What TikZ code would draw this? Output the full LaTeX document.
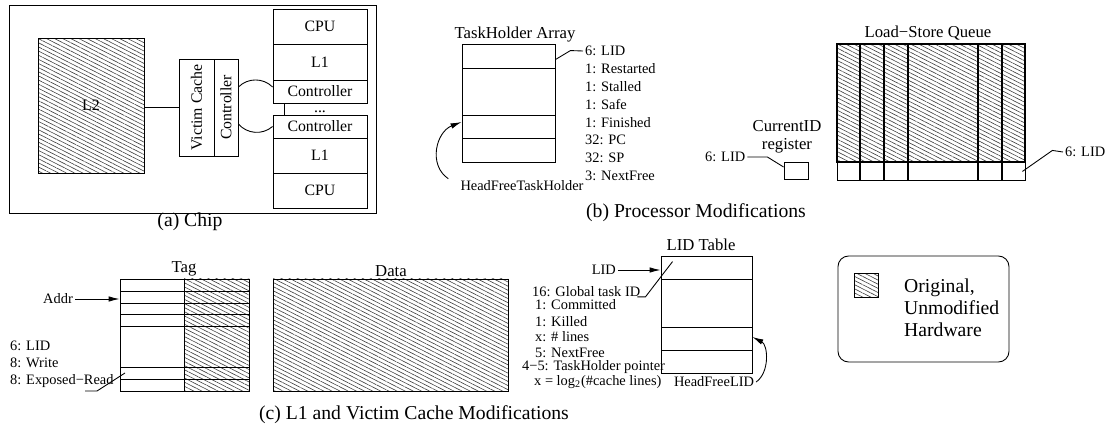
\documentclass[tikz,border=0pt]{standalone}
\usepackage{fontspec}
\setmainfont{Liberation Serif}
\usetikzlibrary{patterns.meta,arrows.meta}
\tikzset{
  hatch/.style={pattern={Lines[angle=-27,distance=2.1pt,line width=0.35pt]},pattern color=black!75},
  box/.style={draw,inner sep=0pt},
  small/.style={inner sep=1pt,font=\fontsize{8.2}{9.5}\selectfont},
  mid/.style={font=\fontsize{9}{10}\selectfont},
  ttl/.style={inner sep=1pt,font=\fontsize{9.5}{10.2}\selectfont},
  capt/.style={inner sep=1pt,font=\fontsize{11.2}{12.5}\selectfont},
  stk/.style={box,minimum width=1.88cm,mid},
  arr/.style={-{Latex[length=2.2mm,width=1.1mm]}},
}
\begin{document}
\begin{tikzpicture}[x=0.02cm,y=-0.02cm,line width=0.5pt]
\useasboundingbox (0,0) rectangle (1107,429);

\draw (9,5) rectangle (376,213);
\node [box,hatch,minimum width=2.12cm,minimum height=2.7cm,mid] (l2) at (91,105.5) {L2};
\node [box,rotate=90,minimum width=1.94cm,minimum height=0.7cm,mid] (vc) at (196.5,107.5) {Victim Cache};
\node [box,rotate=90,minimum width=1.94cm,minimum height=0.48cm,mid] (vcc) at (226,107.5) {Controller};
\draw (l2.east |- vc.north) -- (vc.north);
\node [stk,minimum height=0.7cm] (cpuA) at (320,26.5) {CPU};
\node [stk,minimum height=0.72cm] (l1A) at (320,62) {L1};
\node [stk,minimum height=0.46cm] (ctlA) at (320,91.5) {Controller};
\node [stk,minimum height=0.46cm] (ctlB) at (320,126.5) {Controller};
\node [stk,minimum height=0.7cm] (l1B) at (320,155.5) {L1};
\node [stk,minimum height=0.7cm] (cpuB) at (320,190.5) {CPU};
\draw ([xshift=0.24cm]ctlA.south west) -- ([xshift=0.24cm]ctlB.north west);
\node [mid,inner sep=0pt,text height=0.5ex,text depth=0pt] (dots) at (320,110) {...};
\draw ([yshift=0.41cm]vcc.south) to[bend left=45] ([yshift=0.09cm]ctlA.west);
\draw ([yshift=-0.33cm]vcc.south) to[bend right=45] (ctlB.west);
\node [capt] (capa) at (190,222) {(a) Chip};

\node [ttl] (thlbl) at (515,35) {TaskHolder Array};
\node [box,minimum width=1.86cm,minimum height=2.36cm] (tha) at (508.5,103) {};
\foreach \y in {68,115,138}
  \draw (462,\y) -- (555,\y);
\foreach \t [count=\i] in {6: LID,1: Restarted,1: Stalled,1: Safe,1: Finished,32: PC,32: SP,3: NextFree}
  \node [small,anchor=west] (thf\i) at (583,{51+(\i-1)*17.85}) {\t};
\draw ([yshift=-0.32cm]tha.north east) -- ++(15,-9) -- (thf1.west);
\node [small] (hfth) at (522,186) {HeadFreeTaskHolder};
\draw [arr] ([xshift=-0.2cm]hfth.north west) .. controls (428,165) and (436,132) .. ([yshift=-0.38cm]tha.west);

\node [ttl,align=center] (cidlbl) at (787,137) {CurrentID\\register};
\node [box,minimum width=0.48cm,minimum height=0.34cm] (cid) at (796,170.5) {};
\node [small,anchor=west] (cidin) at (703,157) {6: LID};
\draw (cidin.east) -- ++(20,0) -- ([yshift=0.07cm]cid.west);

\node [ttl] (lsqlbl) at (928,33) {Load−Store Queue};
\fill [hatch] (837,44) rectangle (1025,162);
\node [box,minimum width=3.76cm,minimum height=2.72cm] (lsq) at (931,112) {};
\draw [line width=0.9pt] (837,44) rectangle (1025,162);
\foreach \x in {860,884,908,978,1002}
  \draw [line width=0.9pt] (\x,44) -- (\x,180);
\node [small,anchor=west] (lsqf) at (1063,152) {6: LID};
\draw ([xshift=-0.06cm,yshift=0.18cm]lsq.south east) -- ++(30,-21) -- (lsqf.west);
\node [capt] (capb) at (696,213) {(b) Processor Modifications};

\node [ttl] (taglbl) at (184,269) {Tag};
\fill [hatch] (184,279) rectangle (249,391);
\node [box,minimum width=2.58cm,minimum height=2.24cm] (tag) at (184.5,335) {};
\foreach \y in {291,303,314,326,367,379}
  \draw (120,\y) -- (249,\y);
\draw (184,279) -- (184,391);
\node [small,anchor=east] (addr) at (75,299) {Addr};
\draw [arr] (addr.east) -- (addr.east -| tag.west);
\node [small,anchor=west] (tagf1) at (8,346) {6: LID};
\node [small,anchor=west] (tagf2) at (8,363) {8: Write};
\node [small,anchor=west] (tagf3) at (8,381) {8: Exposed−Read};
\coordinate (tagp) at (85,391);
\coordinate (tagq) at (125,373);
\draw (tagp) -- ++(12,0) -- (tagq);

\node [ttl] (datalbl) at (391,271) {Data};
\fill [hatch] (273,279) rectangle (508,391);
\node [box,minimum width=4.7cm,minimum height=2.24cm] (data) at (390.5,335) {};
\node [capt] (capc) at (414,415) {(c) L1 and Victim Cache Modifications};

\node [ttl] (lidlbl) at (701,245) {LID Table};
\node [box,minimum width=1.82cm,minimum height=2.34cm] (lidt) at (706.5,314.5) {};
\foreach \y in {279,327,350}
  \draw (661,\y) -- (752,\y);
\node [small,anchor=east] (lidin) at (618,270) {LID};
\draw [arr] (lidin.east) -- (lidin.east -| lidt.west);
\node [small,anchor=west] (gtid) at (530,292) {16: Global task ID};
\node [small,anchor=west] (lidf2) at (533,305) {1: Committed};
\node [small,anchor=west] (lidf3) at (533,322) {1: Killed};
\node [small,anchor=west] (lidf4) at (533,337) {x: \# lines};
\node [small,anchor=west] (lidf5) at (533,353) {5: NextFree};
\node [small,anchor=west] (lidf6) at (520,367) {4−5: TaskHolder pointer};
\node [small,anchor=west] (lidf7) at (532,382) {x = log\textsubscript{2}(\#cache lines)};
\draw ([xshift=-0.1cm]gtid.base east) -- ++(8,0) -- ([xshift=0.24cm,yshift=-0.12cm]lidt.north west);
\node [small] (hflid) at (714,382) {HeadFreeLID};
\draw [arr] (hflid.east) .. controls (770,372) and (768,345) .. ([yshift=-0.45cm]lidt.east);

\node [draw,rounded corners=6pt,minimum width=3.42cm,minimum height=2.12cm] (leg) at (923.5,309) {};
\node [box,hatch,minimum width=0.48cm,minimum height=0.48cm] (legsq) at (866,285) {};
\node [capt,anchor=west,align=left,font=\fontsize{11.2}{12.5}\selectfont] (legtxt) at (902,307.5) {Original,\\Unmodified\\Hardware};
\end{tikzpicture}
\end{document}
